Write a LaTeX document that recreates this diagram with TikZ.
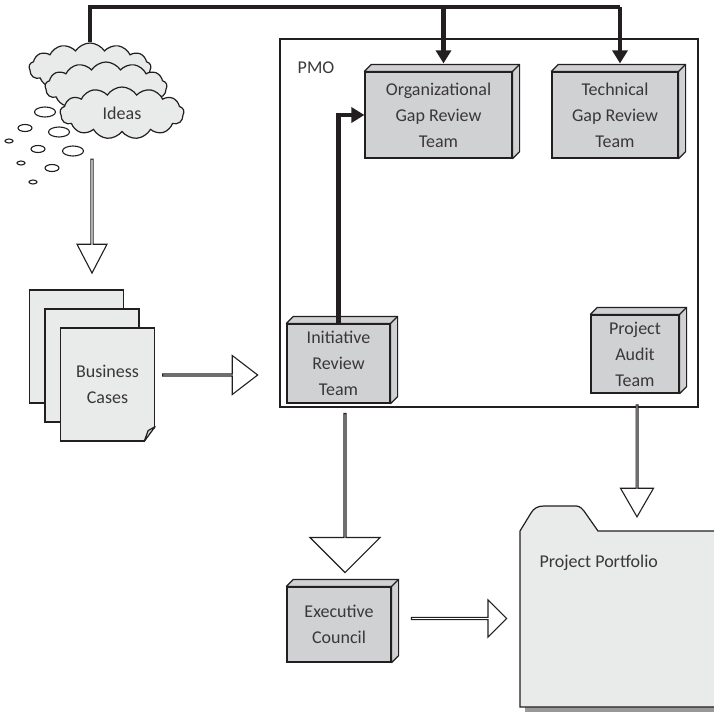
\documentclass[tikz,border=0pt]{standalone}
\usepackage{fontspec}
\setmainfont{Carlito}
\usetikzlibrary{calc,arrows.meta,shapes.symbols,shapes.arrows,shapes.geometric}

\definecolor{paperfill}{HTML}{E9EAEA}
\definecolor{boxfill}{HTML}{D0D1D3}
\definecolor{inkline}{HTML}{231F20}
\definecolor{inktext}{HTML}{3A3738}

\tikzset{
    teambox/.style={draw=inkline, line width=1.2pt, fill=boxfill, text=inktext, align=center, inner sep=0pt, font=\fontsize{18}{26}\selectfont},
    idea/.style={cloud, cloud puffs=13, cloud puff arc=115, aspect=2.1, draw=inkline, line width=1.2pt, fill=paperfill, inner sep=0pt, text=inktext, font=\fontsize{18}{26}\selectfont},
    bubble/.style={ellipse, draw=inkline, line width=1.1pt, fill=white, inner sep=0pt},
    page/.style={draw=inkline, line width=1.2pt, fill=paperfill, minimum width=94, minimum height=113, text=inktext, align=center, font=\fontsize{18}{26}\selectfont},
    hollow/.style={single arrow, draw=inkline, line width=1.1pt, fill=white, inner sep=0pt},
    busline/.style={line width=4.5pt, draw=inkline},
    bustip/.style={-{Triangle[length=13pt,width=15pt]}}
}

\begin{document}
\begin{tikzpicture}[x=1pt,y=-1pt]
    \useasboundingbox (0,0) rectangle (714,712);

    % PMO frame
    \node[draw=inkline, line width=1.1pt, minimum width=418, minimum height=368, inner sep=0pt] (pmo) at (489,223) {};
    \node[text=inktext, font=\fontsize{18}{26}\selectfont] (pmolabel) at (316,68) {PMO};

    % Clouds
    \node[idea, minimum width=122, minimum height=50] (ideasback) at (90,68) {};
    \node[idea, minimum width=122, minimum height=50] (ideasmid) at (106,87) {};
    \node[idea, minimum width=124, minimum height=52] (ideasfront) at (122,113) {Ideas};

    % Bubbles
    \foreach \x/\y/\rx/\ry/\n in {45/112/10.5/5/a, 25/128/7/3.5/b, 59/132/10.5/5/c, 9/141/4/2/d, 38/149/7/3.5/e, 73/151/10.5/5/f, 21/163/4/2/g, 52/168/7/3.5/h, 33/182/4/2/i}
        \node[bubble, minimum width=2*\rx, minimum height=2*\ry] (bubble\n) at (\x,\y) {};

    % Pages
    \node[page] (caseback) at (76.5,346.5) {Business\\Cases};
    \node[page] (casemid) at (92,365.5) {Business\\Cases};
    \node[page] (casefront) at (107.5,384.5) {Business\\Cases};
    \fill[white] ($(casefront.south east)+(1,-15)$) -- ($(casefront.south east)+(1,1)$) -- ($(casefront.south east)+(-11,1)$) -- cycle;
    \draw[inkline, line width=1.2pt, fill=boxfill, line join=round] ($(casefront.south east)+(0,-15)$) -- ($(casefront.south east)+(-11,0)$) -- ($(casefront.south east)+(-7,-11)$) -- cycle;

    % Team boxes
    \node[teambox, minimum width=147, minimum height=86] (orggap) at (438.5,115) {Organizational\\Gap Review\\Team};
    \node[teambox, minimum width=126, minimum height=86] (techgap) at (615,115) {Technical\\Gap Review\\Team};
    \node[teambox, minimum width=103, minimum height=79] (initiative) at (338.5,363.5) {Initiative\\Review\\Team};
    \node[teambox, minimum width=88, minimum height=78] (audit) at (635,354) {Project\\Audit\\Team};
    \node[teambox, minimum width=104, minimum height=75] (council) at (339,624.5) {Executive\\Council};
    \foreach \n in {orggap,techgap,initiative,audit,council} {
        \draw[inkline, line width=1.2pt, fill=boxfill, line join=round] (\n.north west) -- ++(7,-7) -| ($(\n.south east)+(7,-7)$) -- (\n.south east) |- cycle;
        \draw[inkline, line width=1.2pt] (\n.north east) -- ++(7,-7);
        \coordinate (\n-top) at ($(\n.north)+(5,-8)$);
    }

    % Thick connectors
    \coordinate (busleft) at (90,7);
    \draw[busline] (ideasback.north) -- (busleft) -- (busleft -| techgap-top);
    \draw[busline, bustip] (busleft -| orggap-top) -- (orggap-top);
    \draw[busline, bustip] (busleft -| techgap-top) -- (techgap-top);
    \draw[busline, bustip] (initiative.north) |- (orggap.west);

    % Portfolio
    \fill[gray!80] (525,700) rectangle (714,712);
    \draw[inkline, line width=1.2pt, fill=paperfill] (714,531) -- (598,531) -- (584,511) .. controls (580,506) and (578,506) .. (574,506) -- (544,506) .. controls (538,506) and (534,508) .. (531,513) -- (520,531) -- (520,707) -- (714,707);
    \node[anchor=west, text=inktext, font=\fontsize{18}{26}\selectfont] (portfolio) at (536,563) {Project Portfolio};

    % Block arrows
    \node[hollow, rotate=-90, minimum height=114, minimum width=30, single arrow head extend=7, single arrow tip angle=55] (ideastocases) at (92,215) {};
    \node[hollow, minimum height=95, minimum width=39, single arrow head extend=10, single arrow tip angle=75] (casestoreview) at (209.5,375) {};
    \node[hollow, rotate=-90, minimum height=159, minimum width=70, single arrow head extend=18] (reviewtocouncil) at (345,492.5) {};
    \node[hollow, minimum height=95, minimum width=37, single arrow head extend=9] (counciltoportfolio) at (458.5,618.5) {};
    \node[hollow, rotate=-90, minimum height=112, minimum width=33, single arrow head extend=9, single arrow tip angle=60] (audittoportfolio) at (637,460) {};
\end{tikzpicture}
\end{document}
